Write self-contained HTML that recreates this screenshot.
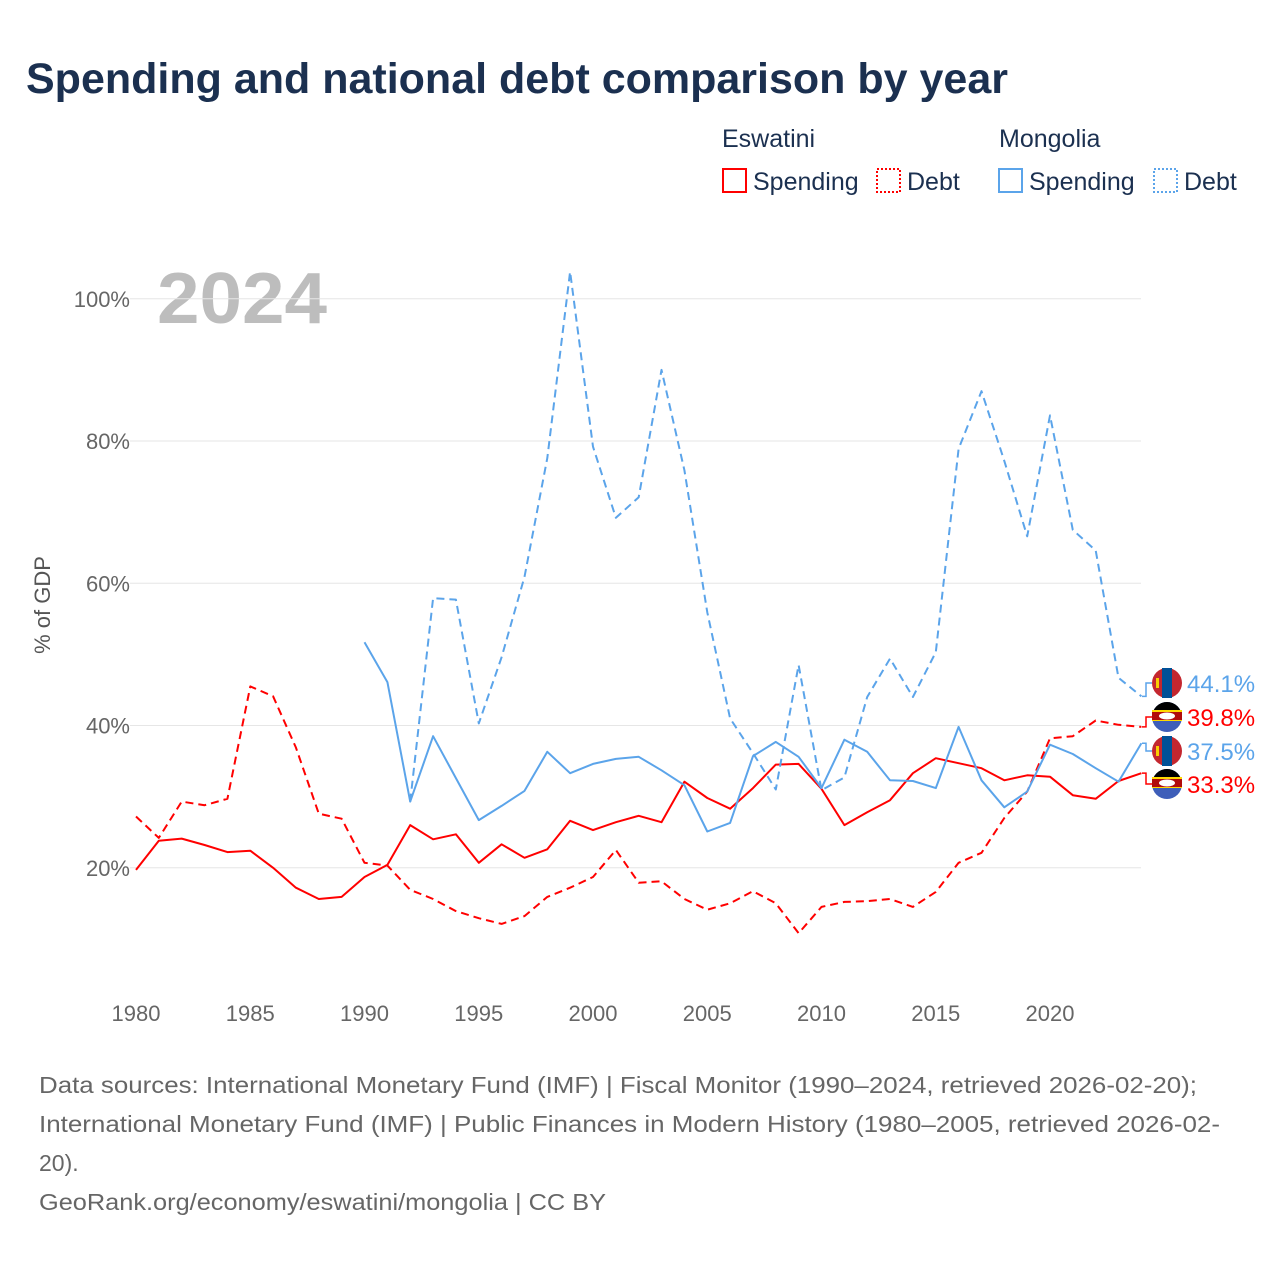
<!DOCTYPE html>
<html><head><meta charset="utf-8">
<style>
body{margin:0;background:#fff;font-family:"Liberation Sans",sans-serif;}
svg{display:block}
</style></head>
<body>
<svg id="chart" width="1280" height="1280" viewBox="0 0 1280 1280">
<text x="26" y="93" font-size="43" font-weight="bold" fill="#1b3050">Spending and national debt comparison by year</text>
<g font-size="25" fill="#1b3050">
<text x="722" y="147">Eswatini</text>
<text x="999" y="147">Mongolia</text>
<g><rect x="723" y="169" width="23" height="23" fill="none" stroke="#ff0000" stroke-width="2"/><text x="753" y="190">Spending</text></g>
<g><rect x="877" y="169" width="23" height="23" fill="none" stroke="#ff0000" stroke-width="2" stroke-dasharray="2,2"/><text x="907" y="190">Debt</text></g>
<g><rect x="999" y="169" width="23" height="23" fill="none" stroke="#5ba4ea" stroke-width="2"/><text x="1029" y="190">Spending</text></g>
<g><rect x="1154" y="169" width="23" height="23" fill="none" stroke="#5ba4ea" stroke-width="2" stroke-dasharray="2,2"/><text x="1184" y="190">Debt</text></g>
</g>
<text x="157" y="323" font-size="72" font-weight="bold" fill="#bdbdbd" textLength="170" lengthAdjust="spacingAndGlyphs">2024</text>
<text transform="translate(50,605) rotate(-90)" text-anchor="middle" font-size="22" fill="#555">% of GDP</text>
<g id="grid"></g><g id="series"></g><g id="labels"></g>
<g font-size="23" fill="#666">
<text x="39" y="1093" textLength="1158" lengthAdjust="spacingAndGlyphs">Data sources: International Monetary Fund (IMF) | Fiscal Monitor (1990–2024, retrieved 2026-02-20);</text>
<text x="39" y="1132" textLength="1181" lengthAdjust="spacingAndGlyphs">International Monetary Fund (IMF) | Public Finances in Modern History (1980–2005, retrieved 2026-02-</text>
<text x="39" y="1171">20).</text>
<text x="39" y="1210" textLength="567" lengthAdjust="spacingAndGlyphs">GeoRank.org/economy/eswatini/mongolia | CC BY</text>
</g>
</svg>
<script>
const yTicks=[20,40,60,80,100];
const xTicks=[1980,1985,1990,1995,2000,2005,2010,2015,2020];
const eswSpendYears0=1980;
const eswSpend=[19.7,23.8,24.1,23.2,22.2,22.4,20,17.2,15.6,15.9,18.7,20.4,26,24,24.7,20.7,23.3,21.4,22.6,26.6,25.3,26.4,27.3,26.4,32.1,29.8,28.3,31.2,34.5,34.6,31.1,26,27.8,29.5,33.3,35.4,34.7,34,32.3,33,32.8,30.2,29.7,32.2,33.3];
const eswDebtYears0=1980;
const eswDebt=[27.2,24.2,29.3,28.8,29.7,45.5,44.1,36.9,27.6,26.9,20.7,20.3,16.9,15.6,13.9,12.9,12.1,13.2,15.9,17.2,18.7,22.5,17.9,18.1,15.6,14.1,15,16.7,15,10.8,14.5,15.2,15.3,15.6,14.5,16.6,20.7,22.1,27,30.7,38.2,38.5,40.7,40.1,39.8];
const monSpendYears0=1990;
const monSpend=[51.7,46.1,29.3,38.5,32.6,26.7,28.7,30.8,36.3,33.3,34.6,35.3,35.6,33.7,31.6,25.1,26.3,35.7,37.7,35.6,31.2,38,36.3,32.3,32.2,31.2,39.8,32.3,28.5,30.7,37.3,36,34,32.1,37.5];
const monDebtYears0=1992;
const monDebt=[29.3,57.9,57.7,40.3,49.6,60.9,77.6,103.8,79.2,69.2,72.1,90,75.9,55.9,41,36.1,31,48.5,30.9,32.7,44,49.4,44,50.3,78.9,87,77.2,66.6,83.6,67.5,64.6,46.7,44.1];
const NS="http://www.w3.org/2000/svg";
const X=y=>136+(y-1980)*914/40;
const Y=v=>1010-v*7.1125;
function mk(t,a,p){const e=document.createElementNS(NS,t);for(const k in a)e.setAttribute(k,a[k]);p.appendChild(e);return e;}
const grid=document.getElementById('grid');
yTicks.forEach(v=>{
 const l=mk('line',{x1:130,x2:1141,y1:Y(v),y2:Y(v),stroke:'#e6e6e6','stroke-width':1},grid);
 
 
 const t=mk('text',{x:130,y:Y(v)+8,'text-anchor':'end','font-size':22,fill:'#666'},grid);
 t.textContent=v+'%';
 
 
});
xTicks.forEach(y=>{
 const t=mk('text',{x:X(y),y:1021,'text-anchor':'middle','font-size':22,fill:'#666'},grid);
 t.textContent=y;
 
 
});
const ser=document.getElementById('series');
function line(arr,y0,color,dash,name){
 const d=arr.map((v,i)=>(i?'L':'M')+X(y0+i).toFixed(1)+','+Y(v).toFixed(1)).join('');
 const p=mk('path',{d:d,fill:'none',stroke:color,'stroke-width':2,'stroke-dasharray':dash||'none','stroke-linejoin':'round'},ser);
 
 
}
line(eswSpend,eswSpendYears0,'#ff0000','','line-eswatini-spending');
line(eswDebt,eswDebtYears0,'#ff0000','8,5','line-eswatini-debt');
line(monSpend,monSpendYears0,'#5ba4ea','','line-mongolia-spending');
line(monDebt,monDebtYears0,'#5ba4ea','8,5','line-mongolia-debt');
const lab=document.getElementById('labels');
const ends=[
 {v:monDebt[monDebt.length-1],c:'#5ba4ea',ly:683,f:'mn',n:'end-label-mongolia-debt'},
 {v:eswDebt[eswDebt.length-1],c:'#ff0000',ly:717,f:'sz',n:'end-label-eswatini-debt'},
 {v:monSpend[monSpend.length-1],c:'#5ba4ea',ly:751,f:'mn',n:'end-label-mongolia-spending'},
 {v:eswSpend[eswSpend.length-1],c:'#ff0000',ly:784,f:'sz',n:'end-label-eswatini-spending'}];
ends.forEach(e=>{
 const g=mk('g',{},lab);
 
 
 mk('path',{d:`M1142,${Y(e.v)}H1146V${e.ly}H1152`,fill:'none',stroke:e.c,'stroke-width':1.5},g);
 const cx=1167,cy=e.ly,r=15;
 if(e.f==='mn'){
  mk('circle',{cx,cy,r,fill:'#c4272f'},g);
  mk('rect',{x:cx-5,y:cy-r,width:10,height:2*r,fill:'#015197'},g);
  mk('rect',{x:cx-11,y:cy-5,width:3,height:10,fill:'#f9cf02'},g);
 }else{
  mk('circle',{cx,cy,r,fill:'#3e5eb9'},g);
  mk('path',{d:`M${cx-r},${cy}A${r},${r} 0 0 1 ${cx+r},${cy}Z`,fill:'#000'},g);
  mk('rect',{x:cx-r,y:cy-7,width:2*r,height:11,fill:'#ffd900'},g);
  mk('rect',{x:cx-r,y:cy-5,width:2*r,height:8,fill:'#b10c0c'},g);
  mk('ellipse',{cx,cy:cy-1,rx:8,ry:3.5,fill:'#fff'},g);
 }
 const t=mk('text',{x:1187,y:e.ly+9,'font-size':24,fill:e.c},g);
 t.textContent=e.v.toFixed(1)+'%';
});
</script>
</body></html>
